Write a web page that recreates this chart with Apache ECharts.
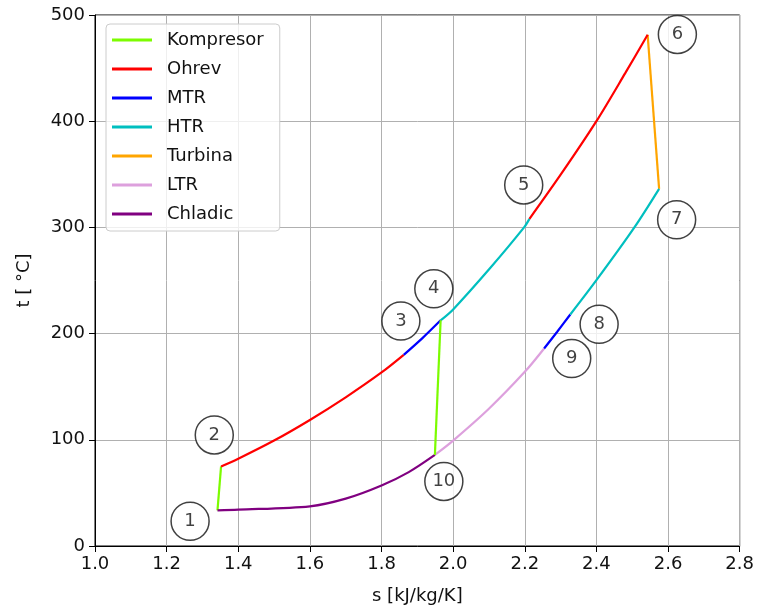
<!DOCTYPE html>
<html>
<head>
<meta charset="utf-8">
<script src="https://cdn.jsdelivr.net/npm/echarts@6/dist/echarts.min.js"></script>
<style>
html,body{margin:0;padding:0;background:#fff;}
#chart{width:757px;height:610px;}
</style>
</head>
<body>
<div id="chart"></div>
<script>
// ---- data (s [kJ/kg/K], t [°C]) ----
var kompresor1 = [[1.342, 33.6], [1.352, 74.9]];
var kompresor2 = [[1.949, 85.8], [1.965, 212.5]];
var ohrev1 = [[1.352, 74.9], [1.4, 82.2], [1.5, 99.3], [1.6, 118.7], [1.7, 140], [1.8, 163.4], [1.862, 180]];
var ohrev2 = [[2.213, 308], [2.303, 351], [2.4, 400], [2.48, 445], [2.543, 481.4]];
var mtr1 = [[1.862, 180], [1.915, 196], [1.965, 212.5]];
var mtr2 = [[2.254, 186], [2.29, 201.5], [2.327, 218]];
var htr1 = [[1.965, 212.5], [2.0, 222.8], [2.104, 262], [2.198, 300], [2.213, 308]];
var htr2 = [[2.327, 218], [2.4, 250.3], [2.506, 300], [2.575, 336.3]];
var turbina = [[2.543, 481.4], [2.575, 336.3]];
var ltr = [[2.254, 186], [2.2, 164], [2.099, 129], [2.0, 99.3], [1.949, 85.8]];
var chladic = [[1.949, 85.8], [1.876, 69.6], [1.8, 57], [1.7, 44.6], [1.6, 37.4], [1.4, 34.2], [1.342, 33.6]];

var pointNames = ['1', '2', '3', '4', '5', '6', '7', '8', '9', '10'];
var pointS = [1.2655, 1.333, 1.854, 1.946, 2.197, 2.626, 2.624, 2.4075, 2.331, 1.974];
var pointT = [23.3, 104.6, 211.8, 242.2, 340, 481.7, 307.2, 208.7, 176.5, 60.8];

var legendNames = ['Kompresor', 'Ohrev', 'MTR', 'HTR', 'Turbina', 'LTR', 'Chladic'];
var colors = {
  'Kompresor': '#7CFC00',
  'Ohrev': '#FF0000',
  'MTR': '#0000FF',
  'HTR': '#00BFBF',
  'Turbina': '#FFA500',
  'LTR': '#DDA0DD',
  'Chladic': '#800080'
};

var FONT = 'DejaVu Sans';
var FS = 18;

function line(name, data, smooth) {
  return {
    type: 'line',
    name: name,
    data: data,
    showSymbol: false,
    symbol: 'none',
    smooth: smooth ? 0.3 : false,
    lineStyle: { color: colors[name], width: 2.2 },
    itemStyle: { color: colors[name] },
    z: 2,
    animation: false
  };
}

var series = [
  line('Kompresor', kompresor1, false),
  line('Ohrev', ohrev1, true),
  line('MTR', mtr1, true),
  line('HTR', htr1, true),
  line('Turbina', turbina, false),
  line('LTR', ltr, true),
  line('Chladic', chladic, true),
  line('Kompresor', kompresor2, false),
  line('Ohrev', ohrev2, true),
  line('MTR', mtr2, true),
  line('HTR', htr2, true)
];

series.push({
  type: 'scatter',
  name: 'points',
  data: pointNames.map(function (n, i) { return { value: [pointS[i], pointT[i]], name: n }; }),
  symbol: 'circle',
  symbolSize: 38,
  itemStyle: { color: '#ffffff', borderColor: '#111', borderWidth: 1.5 },
  label: {
    show: true,
    position: 'inside',
    formatter: function (p) { return p.name; },
    fontFamily: FONT,
    fontSize: FS,
    color: '#111'
  },
  z: 5,
  animation: false
});

var chart = echarts.init(document.getElementById('chart'), null, { renderer: 'canvas' });
chart.setOption({
  animation: false,
  backgroundColor: '#ffffff',
  textStyle: { fontFamily: FONT },
  grid: {
    left: 95, right: 16, top: 15, bottom: 63,
    show: true, borderColor: '#000', borderWidth: 1, backgroundColor: 'transparent'
  },
  legend: {
    data: legendNames.map(function (n) { return { name: n, icon: 'rect' }; }),
    orient: 'vertical',
    left: 106,
    top: 24,
    itemWidth: 40,
    itemHeight: 3,
    itemGap: 11,
    padding: [7, 16, 8, 6],
    backgroundColor: 'rgba(255,255,255,0.8)',
    borderColor: '#cccccc',
    borderWidth: 1,
    borderRadius: 4,
    textStyle: { fontFamily: FONT, fontSize: FS, color: '#111', padding: [0, 0, 0, 10] },
    selectedMode: false
  },
  xAxis: {
    type: 'value',
    min: 1.0, max: 2.8, interval: 0.2,
    name: 's [kJ/kg/K]',
    nameLocation: 'middle',
    nameGap: 41,
    nameTextStyle: { fontFamily: FONT, fontSize: FS, color: '#111' },
    axisLine: { show: true, onZero: false, lineStyle: { color: '#000', width: 1 } },
    axisTick: { show: true, inside: false, length: 6, lineStyle: { color: '#000' } },
    axisLabel: {
      fontFamily: FONT, fontSize: FS, color: '#111', margin: 9,
      formatter: function (v) { return v.toFixed(1); }
    },
    splitLine: { show: true, lineStyle: { color: '#b0b0b0', width: 1 } }
  },
  yAxis: {
    type: 'value',
    min: 0, max: 500, interval: 100,
    name: 't [ °C]',
    nameLocation: 'middle',
    nameGap: 62,
    nameRotate: 90,
    nameTextStyle: { fontFamily: FONT, fontSize: FS, color: '#111' },
    axisLine: { show: true, onZero: false, lineStyle: { color: '#000', width: 1 } },
    axisTick: { show: true, inside: false, length: 6, lineStyle: { color: '#000' } },
    axisLabel: { fontFamily: FONT, fontSize: FS, color: '#111', margin: 10 },
    splitLine: { show: true, lineStyle: { color: '#b0b0b0', width: 1 } }
  },
  series: series
});
</script>
</body>
</html>
